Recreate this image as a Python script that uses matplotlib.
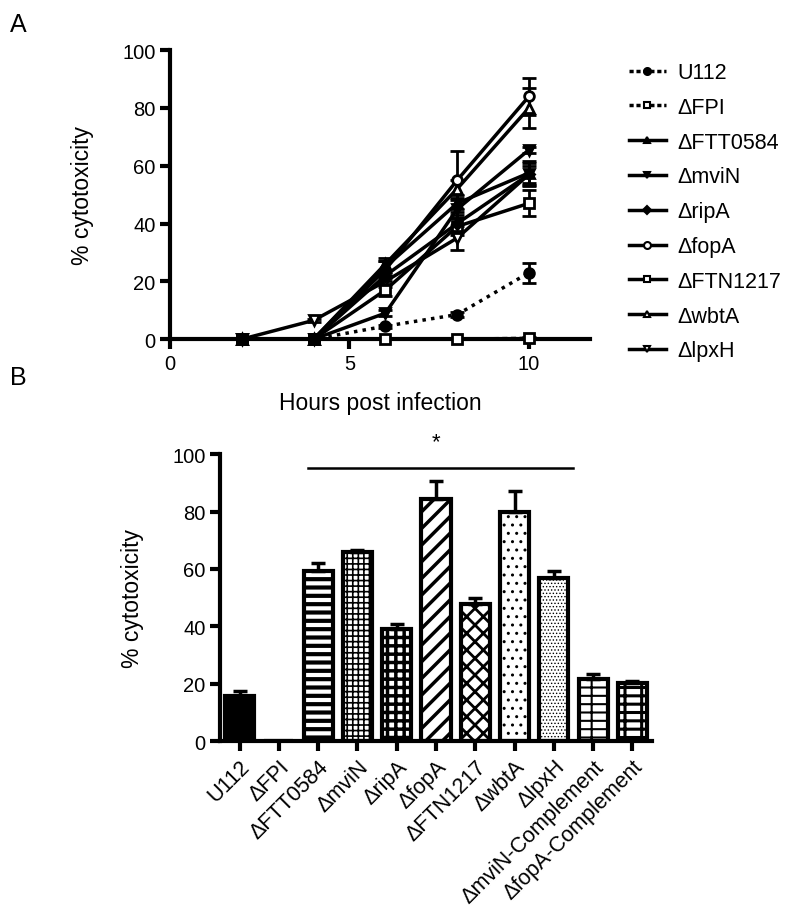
import matplotlib.pyplot as plt
from matplotlib.lines import Line2D
import numpy as np

plt.rcParams['font.family'] = ['Liberation Sans', 'DejaVu Sans']
plt.rcParams['hatch.linewidth'] = 1.2

# panel A: time course
hours = [2, 4, 6, 8, 10]
u112 = [0, 0, 4.5, 8.5, 23]
u112_err = [0, 0, 0.5, 1, 3.5]
fpi = [0, 0, 0, 0, 0.3]
fpi_err = [0, 0, 0, 0, 0.3]
ftt0584 = [0, 0, 25, 47, 57.5]
ftt0584_err = [0, 0, 2, 3, 4]
mvin = [0, 0, 9, 45, 65.5]
mvin_err = [0, 0, 1, 3, 1]
ripa = [0, 0, 22, 40, 57]
ripa_err = [0, 0, 2, 3, 4]
fopa = [0, 0, 24, 55, 84]
fopa_err = [0, 0, 3, 10, 6.5]
ftn1217 = [0, 0, 17, 39, 47]
ftn1217_err = [0, 0, 2, 3, 4.5]
wbta = [0, 0, 26, 52, 80]
wbta_err = [0, 0, 2, 3, 7]
lpxh = [0, 6.5, 20, 35, 57]
lpxh_err = [0, 0.5, 2, 4, 3]

line_labels = ['U112', 'ΔFPI', 'ΔFTT0584', 'ΔmviN', 'ΔripA', 'ΔfopA',
               'ΔFTN1217', 'ΔwbtA', 'ΔlpxH']
line_vals = [u112, fpi, ftt0584, mvin, ripa, fopa, ftn1217, wbta, lpxh]
line_errs = [u112_err, fpi_err, ftt0584_err, mvin_err, ripa_err, fopa_err,
             ftn1217_err, wbta_err, lpxh_err]
markers = ['o', 's', '^', 'v', 'D', 'o', 's', '^', 'v']
filled = [True, False, True, True, True, False, False, False, False]
lstyles = [(0, (1, 1.5)), (0, (1.5, 1)), '-', '-', '-', '-', '-', '-', '-']

# panel B: bars
bar_labels = ['U112', 'ΔFPI', 'ΔFTT0584', 'ΔmviN', 'ΔripA', 'ΔfopA',
              'ΔFTN1217', 'ΔwbtA', 'ΔlpxH', 'ΔmviN-Complement',
              'ΔfopA-Complement']
bar_vals = [15.7, 0.3, 59.2, 65.8, 39, 84.3, 47.7, 80, 56.8, 21.6, 20.2]
bar_errs = [1.7, 0, 2.8, 0.7, 1.7, 6.3, 2.1, 7, 2.4, 1.7, 0.8]
hatches = [None, None, '--', '+++', '++', '//', 'xx', '..', '.....', '-+', '-+']
hatch_lw = [1, 1, 3, 1.2, 2.5, 2.5, 2, 1, 0.6, 1.5, 2.2]

fig = plt.figure(figsize=(8, 9.12), dpi=100)

# ---- A ----
ax = fig.add_axes([0.2125, 0.627, 0.525, 0.317])
handles = []
for i in reversed(range(len(line_vals))):
    m, f = markers[i], filled[i]
    ax.errorbar(hours, line_vals[i], yerr=line_errs[i], color='black', lw=2.5,
                ls=lstyles[i], marker=m, ms=7 if m != 'D' else 5.5,
                mfc='black' if f else 'white', mec='black', mew=2,
                capsize=5, elinewidth=2, capthick=2, clip_on=False, zorder=3)
for i in range(len(line_vals)):
    ls = '-' if lstyles[i] == '-' else (0, (1.2, 0.8))
    handles.append(Line2D([], [], color='black', lw=2.5, ls=ls, marker=markers[i],
                          ms=5 if markers[i] != 'D' else 4,
                          mfc='black' if filled[i] else 'white', mec='black', mew=1.5,
                          label=line_labels[i]))
ax.set_xlim(0, 11.7)
ax.set_ylim(0, 100)
ax.set_xticks([0, 5, 10])
ax.set_yticks([0, 20, 40, 60, 80, 100])
for s in ['top', 'right']:
    ax.spines[s].set_visible(False)
for s in ['left', 'bottom']:
    ax.spines[s].set_linewidth(3)
ax.tick_params(width=3, length=7, labelsize=14.5, direction='out')
ax.set_xlabel('Hours post infection', fontsize=16.5, labelpad=13)
ax.set_ylabel('% cytotoxicity', fontsize=16.5, labelpad=20)
ax.legend(handles=handles, loc='upper left', bbox_to_anchor=(0.762, 0.952),
          bbox_transform=fig.transFigure, frameon=False, fontsize=15.5,
          handlelength=1.7, labelspacing=0.64, handletextpad=0.55)

# ---- B ----
bx = fig.add_axes([0.275, 0.186, 0.54, 0.315])
x = np.arange(len(bar_vals))
for i in range(len(bar_vals)):
    bars = bx.bar(x[i], bar_vals[i], width=0.74, color='black' if i == 0 else 'white',
                  edgecolor='black', linewidth=3, hatch=hatches[i],
                  yerr=[[0], [bar_errs[i]]],
                  error_kw=dict(capsize=5, elinewidth=2.5, capthick=2.5, ecolor='black'),
                  zorder=2)
    for p in bars:
        if hasattr(p, 'set_hatch_linewidth'):
            p.set_hatch_linewidth(hatch_lw[i])
bx.set_xlim(-0.5, 10.5)
bx.set_ylim(0, 100)
bx.set_yticks([0, 20, 40, 60, 80, 100])
bx.set_xticks(x)
bx.set_xticklabels(bar_labels, rotation=45, ha='right', rotation_mode='anchor')
for s in ['top', 'right']:
    bx.spines[s].set_visible(False)
for s in ['left', 'bottom']:
    bx.spines[s].set_linewidth(3)
bx.tick_params(axis='y', width=3, length=7, labelsize=14.5, direction='out')
bx.tick_params(axis='x', width=3, length=7, labelsize=15.5, direction='out')
bx.set_ylabel('% cytotoxicity', fontsize=16.5, labelpad=20)
bx.plot([1.75, 8.5], [95, 95], color='black', lw=1.8, clip_on=False)
bx.text(5.0, 100.5, '*', ha='center', va='bottom', fontsize=16)

fig.text(0.012, 0.965, 'A', fontsize=18)
fig.text(0.012, 0.578, 'B', fontsize=18)

fig.savefig('out.png', dpi=100)
